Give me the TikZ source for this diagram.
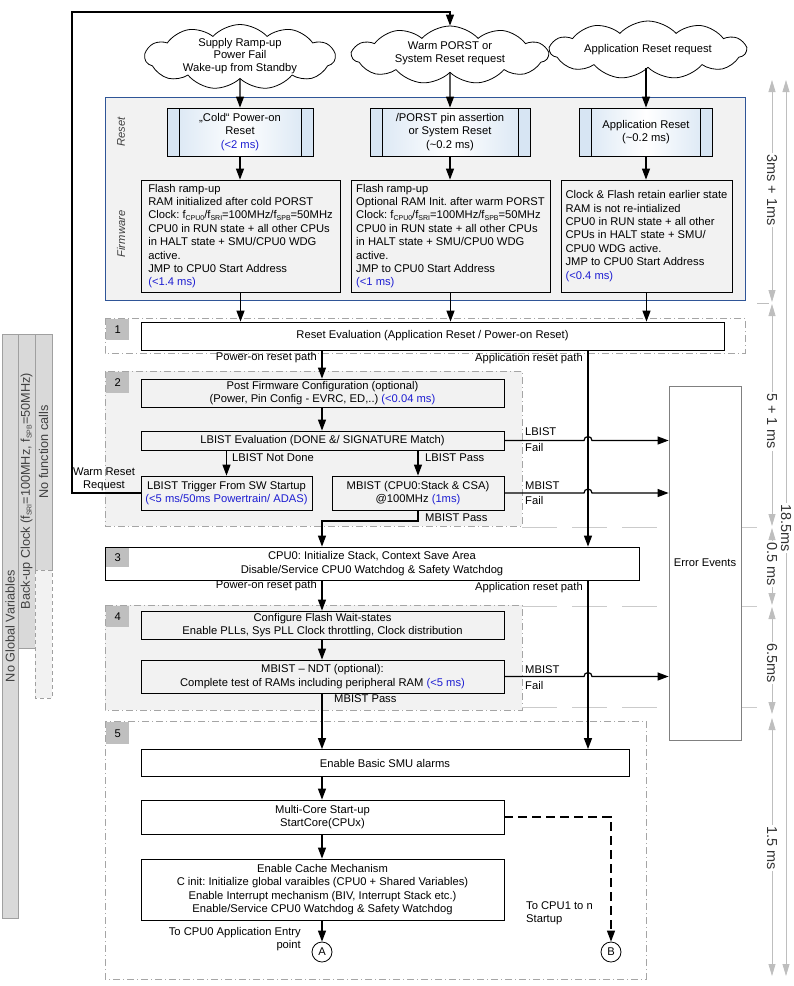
\documentclass[tikz,border=0pt]{standalone}
\usepackage{fontspec}
\setmainfont{Liberation Sans}
\usetikzlibrary{arrows.meta,shapes.symbols,calc}
\definecolor{bluebd}{RGB}{47,85,151}
\definecolor{bluetx}{RGB}{30,30,210}
\definecolor{secfill}{RGB}{242,242,242}
\definecolor{numfill}{RGB}{191,191,191}
\definecolor{tgray}{RGB}{190,190,190}
\definecolor{secbd}{RGB}{165,165,165}
\definecolor{rbl}{RGB}{215,229,243}
\definecolor{barfill}{RGB}{217,217,217}
\definecolor{barbd}{RGB}{160,160,160}
\definecolor{errbd}{RGB}{128,128,128}
\newcommand\bluet[1]{\textcolor{bluetx}{#1}}
\newcommand\mysub[1]{\raisebox{-1.8pt}{\fontsize{7}{7}\selectfont #1}}
\newcommand\diagfont{\fontsize{11.2}{13.4}\selectfont}
\newcommand\cloudfont{\fontsize{11.2}{12.8}\selectfont}
\newcommand\timefont{\fontsize{14.5}{16}\selectfont}
\newcommand\barfont{\fontsize{12.7}{14}\selectfont}
\begin{document}
\frenchspacing
\begin{tikzpicture}[x=1pt,y=-1pt,
  box/.style={draw=black, line width=0.8pt, inner sep=0pt, align=center, font=\diagfont},
  fwbox/.style={box, fill=secfill, align=left},
  sec/.style={draw=secbd, line width=0.7pt, dash pattern=on 7pt off 3pt on 1pt off 3pt},
  num/.style={fill=numfill, inner sep=0pt, minimum width=23pt, minimum height=21pt, font=\diagfont, anchor=north west},
  arr/.style={line width=1.2pt, -{Triangle[length=11pt,width=8pt]}},
  lbl/.style={font=\diagfont, inner sep=0pt},
  side/.style={font=\diagfont\itshape, text=black!75, rotate=90, inner sep=0pt},
  barlbl/.style={font=\barfont, text=black!75, rotate=90, inner sep=0pt},
  cloudsh/.style={cloud, cloud puffs=11, cloud puff arc=95, cloud ignores aspect, draw=black, fill=white, line width=0.8pt, inner sep=0pt},
  ctext/.style={font=\cloudfont, align=center, inner sep=0pt},
  rbox/.style={box, left color=rbl, right color=rbl, middle color=white,
    path picture={
      \fill[rbl] (path picture bounding box.north west) rectangle ([xshift=12pt]path picture bounding box.south west);
      \fill[rbl] (path picture bounding box.north east) rectangle ([xshift=-12pt]path picture bounding box.south east);
      \draw[line width=0.8pt] ([xshift=12pt]path picture bounding box.north west) -- ([xshift=12pt]path picture bounding box.south west);
      \draw[line width=0.8pt] ([xshift=-12pt]path picture bounding box.north east) -- ([xshift=-12pt]path picture bounding box.south east);
    }},
  tarr/.style={draw=tgray, line width=0.8pt, {Triangle[length=12pt,width=7pt]}-{Triangle[length=12pt,width=7pt]}},
  tlbl/.style={font=\timefont, text=black!80, fill=white, rotate=-90, inner sep=1.5pt},
  bound/.style={draw=tgray!80, line width=0.7pt, dash pattern=on 35pt off 15pt},
  circ/.style={circle, draw=black, line width=0.8pt, fill=white, minimum size=20pt, inner sep=0pt, font=\diagfont}
]
\useasboundingbox (0,0) rectangle (794,986);

% ---------- left bars
\draw[barbd, fill=barfill, line width=0.7pt] (2,334) rectangle (18,918);
\node[barlbl] (b1) at (10,626) {No Global Variables};
\draw[barbd, fill=barfill, line width=0.7pt] (18,334) rectangle (35,648);
\node[barlbl] (b2) at (26.5,491) {Back-up Clock (f\mysub{SRI}=100MHz, f\mysub{SPB}=50MHz)};
\draw[barbd, fill=barfill, line width=0.7pt] (35,334) rectangle (52,570);
\draw[barbd, fill=barfill!35, line width=0.7pt, dash pattern=on 4pt off 3pt] (35,570) rectangle (52,698);
\node[barlbl] (b3) at (43.5,452) {No function calls};

% ---------- backgrounds
\draw[bluebd, fill=secfill, line width=0.8pt] (105,97) rectangle (745,300);
\node[side] (lr) at (121,132) {Reset};
\node[side] (lf) at (121,234) {Firmware};
\draw[sec, fill=white] (105,318) rectangle (745,353);
\draw[sec, fill=secfill] (105,371) rectangle (522,526);
\draw[sec, fill=secfill] (105,605) rectangle (522,710);
\draw[sec, fill=white] (105,721) rectangle (646,979);

% ---------- boundary lines
\draw[tgray, line width=0.7pt] (757,303) -- (769,303);
\draw[bound] (522,527) -- (770,527);
\draw[bound] (522,606) -- (770,606);
\draw[bound] (522,707) -- (770,707);

% ---------- clouds
\node[cloudsh, minimum width=190pt, minimum height=65pt,
  label={[ctext, yshift=1pt]center:{Supply Ramp-up\\Power Fail\\Wake-up from Standby}}] (cl1) at (240,57) {};
\node[cloudsh, minimum width=196pt, minimum height=58pt,
  label={[ctext, yshift=2pt]center:{Warm PORST or\\System Reset request}}] (cl2) at (450,55) {};
\node[cloudsh, minimum width=196pt, minimum height=58pt,
  label={[ctext]center:{Application Reset request}}] (cl3) at (648,50) {};

% ---------- reset boxes
\node[rbox, minimum width=146pt, minimum height=48pt] (rb1) at (240,132) {„Cold“ Power-on\\Reset\\\bluet{(<2 ms)}};
\node[rbox, minimum width=160pt, minimum height=48pt] (rb2) at (450,132) {/PORST pin assertion\\or System Reset\\(\textasciitilde0.2 ms)};
\node[rbox, minimum width=133pt, minimum height=48pt] (rb3) at (646,132) {Application Reset\\(\textasciitilde0.2 ms)};

% ---------- firmware boxes
\node[fwbox, minimum width=199pt, minimum height=112pt] (fw1) at (240.5,236) {Flash ramp-up\\RAM initialized after cold PORST\\Clock: f\mysub{CPU0}/f\mysub{SRI}=100MHz/f\mysub{SPB}=50MHz\\CPU0 in RUN state + all other CPUs\\in HALT state + SMU/CPU0 WDG\\active.\\JMP to CPU0 Start Address\\\bluet{(<1.4 ms)}};
\node[fwbox, minimum width=199pt, minimum height=112pt] (fw2) at (450.5,236) {Flash ramp-up\\Optional RAM Init. after warm PORST\\Clock: f\mysub{CPU0}/f\mysub{SRI}=100MHz/f\mysub{SPB}=50MHz\\CPU0 in RUN state + all other CPUs\\in HALT state + SMU/CPU0 WDG\\active.\\JMP to CPU0 Start Address\\\bluet{(<1 ms)}};
\node[fwbox, minimum width=171pt, minimum height=112pt] (fw3) at (646.5,236) {Clock \& Flash retain earlier state\\RAM is not re-intialized\\CPU0 in RUN state + all other\\CPUs in HALT state + SMU/\\CPU0 WDG active.\\JMP to CPU0 Start Address\\\bluet{(<0.4 ms)}};

% ---------- section 1
\node[box, fill=white, minimum width=583pt, minimum height=28pt] (re) at (432.5,336) {Reset Evaluation (Application Reset / Power-on Reset)};
\node[num] (n1) at (106,319) {1};
\coordinate (pwx) at (322,0);
\coordinate (apx) at (588,0);

% ---------- section 2
\node[num] (n2) at (106,372) {2};
\node[box, fill=secfill, minimum width=363pt, minimum height=28pt] (pf) at (322.5,393) {Post Firmware Configuration (optional)\\(Power, Pin Config - EVRC, ED,..) \bluet{(<0.04 ms)}};
\node[box, fill=secfill, minimum width=363pt, minimum height=19pt] (lbe) at (322.5,440.5) {LBIST Evaluation (DONE \&/ SIGNATURE Match)};
\node[box, fill=secfill, minimum width=171pt, minimum height=34pt] (lbt) at (226.5,493) {LBIST Trigger From SW Startup\\\bluet{(<5 ms/50ms Powertrain/ ADAS)}};
\node[box, fill=secfill, minimum width=172pt, minimum height=34pt] (mb) at (418,493) {MBIST (CPU0:Stack \& CSA)\\@100MHz \bluet{(1ms)}};

% ---------- section 3
\node[box, fill=white, minimum width=534pt, minimum height=33pt] (cpu) at (372,563.5) {CPU0: Initialize Stack, Context Save Area\\Disable/Service CPU0 Watchdog \& Safety Watchdog};
\node[num, minimum height=19pt] (n3) at (106,548) {3};

% ---------- section 4
\node[num] (n4) at (106,606) {4};
\node[box, fill=secfill, minimum width=363pt, minimum height=28pt] (cf) at (322.5,625) {Configure Flash Wait-states\\Enable PLLs, Sys PLL Clock throttling, Clock distribution};
\node[box, fill=secfill, minimum width=363pt, minimum height=33pt] (nd) at (322.5,676.5) {MBIST – NDT (optional):\\Complete test of RAMs including peripheral RAM \bluet{(<5 ms)}};

% ---------- section 5
\node[num, minimum height=22pt] (n5) at (106,722) {5};
\node[box, fill=white, minimum width=488pt, minimum height=27pt] (smu) at (385,763) {Enable Basic SMU alarms};
\node[box, fill=white, minimum width=363pt, minimum height=34pt] (mc) at (322.5,817) {Multi-Core Start-up\\StartCore(CPUx)};
\node[box, fill=white, minimum width=363pt, minimum height=61pt] (ec) at (322.5,889.5) {Enable Cache Mechanism\\C init: Initialize global varaibles (CPU0 + Shared Variables)\\Enable Interrupt mechanism (BIV, Interrupt Stack etc.)\\Enable/Service CPU0 Watchdog \& Safety Watchdog};
\node[circ] (ca) at (322,952) {A};
\node[circ] (cb) at (611,952) {B};

% ---------- error events
\node[draw=errbd, fill=white, line width=0.8pt, minimum width=72pt, minimum height=354pt, inner sep=0pt, font=\diagfont] (err) at (705,563) {Error Events};

% ---------- arrows top
\draw[arr] (cl1.south) -- (rb1.north);
\draw[arr] (cl2.south) -- (rb2.north);
\draw[arr] (cl3.south -| rb3.north) -- (rb3.north);
\draw[arr] (rb1.south) -- (rb1.south |- fw1.north);
\draw[arr] (rb2.south) -- (rb2.south |- fw2.north);
\draw[arr] (rb3.south) -- (rb3.south |- fw3.north);
\draw[arr] (fw1.south) -- (fw1.south |- re.north);
\draw[arr] (fw2.south) -- (fw2.south |- re.north);
\draw[arr] (fw3.south) -- (fw3.south |- re.north);

% ---------- feedback
\coordinate (fbc) at (72,12);
\draw[arr] (lbt.west) -| (fbc) -| (cl2.north);

% ---------- power-on path
\draw[arr] (re.south -| pwx) -- (pf.north -| pwx);
\draw[arr] (pf.south -| pwx) -- (lbe.north -| pwx);
\draw[arr] (lbe.south -| lbt.north) -- (lbt.north);
\draw[arr] (lbe.south -| mb.north) -- (mb.north);
\coordinate (mp) at (322,521);
\draw[arr] (mb.south) |- (mp) -- (mp |- cpu.north);
\draw[arr] (cpu.south -| pwx) -- (cf.north -| pwx);
\draw[arr] (cf.south -| pwx) -- (nd.north -| pwx);
\draw[arr] (nd.south -| pwx) -- (smu.north -| pwx);
\draw[arr] (smu.south -| pwx) -- (mc.north -| pwx);
\draw[arr] (mc.south -| pwx) -- (ec.north -| pwx);
\draw[arr] (ec.south -| pwx) -- (ca.north);
\draw[arr, dash pattern=on 9pt off 5pt] (mc.east) -| (cb.north);

% ---------- application path
\draw[arr] (re.south -| apx) -- (cpu.north -| apx);
\draw[arr] (cpu.south -| apx) -- (smu.north -| apx);

% ---------- fail lines with jumps
\draw[arr] (lbe.east) -- ($(lbe.east -| apx)+(-4,0)$) arc[start angle=180,end angle=0,radius=4pt] -- (lbe.east -| err.west);
\draw[arr] (mb.east) -- ($(mb.east -| apx)+(-4,0)$) arc[start angle=180,end angle=0,radius=4pt] -- (mb.east -| err.west);
\draw[arr] (nd.east) -- ($(nd.east -| apx)+(-4,0)$) arc[start angle=180,end angle=0,radius=4pt] -- (nd.east -| err.west);

% ---------- labels
\node[lbl, anchor=east] (l1) at (317,358) {Power-on reset path};
\node[lbl, anchor=east] (l2) at (583,359) {Application reset path};
\node[lbl, anchor=west] (l3) at (232,458) {LBIST Not Done};
\node[lbl, anchor=west] (l4) at (425,458) {LBIST Pass};
\node[lbl, anchor=west] (l5) at (425,518) {MBIST Pass};
\node[lbl, anchor=west] (l6) at (525,432) {LBIST};
\node[lbl, anchor=west] (l7) at (525,447) {Fail};
\node[lbl, anchor=west] (l8) at (525,486) {MBIST};
\node[lbl, anchor=west] (l9) at (525,500) {Fail};
\node[lbl, anchor=east] (l10) at (317,586) {Power-on reset path};
\node[lbl, anchor=east] (l11) at (583,588) {Application reset path};
\node[lbl, anchor=west] (l12) at (525,670) {MBIST};
\node[lbl, anchor=west] (l13) at (525,685) {Fail};
\node[lbl, anchor=west] (l14) at (334,699) {MBIST Pass};
\node[lbl, align=left, anchor=west] (l15) at (526,913) {To CPU1 to n\\Startup};
\node[lbl, align=right, anchor=east] (l16) at (301,939) {To CPU0 Application Entry\\point};
\node[lbl, align=center] (l17) at (104,479.5) {Warm Reset\\Request};

% ---------- timing
\coordinate (ta0) at (772,80);
\coordinate (ta1) at (772,302);
\coordinate (ta2) at (772,304);
\coordinate (ta3) at (772,526);
\coordinate (ta4) at (772,528);
\coordinate (ta5) at (772,605);
\coordinate (ta6) at (772,607);
\coordinate (ta7) at (772,714);
\coordinate (ta8) at (772,718);
\coordinate (ta9) at (772,976);
\coordinate (tb0) at (786,80);
\coordinate (tb1) at (786,976);
\draw[tarr] (ta0) -- (ta1);
\draw[tarr] (ta2) -- (ta3);
\draw[tarr] (ta4) -- (ta5);
\draw[tarr] (ta6) -- (ta7);
\draw[tarr] (ta8) -- (ta9);
\draw[tarr] (tb0) -- (tb1);
\node[tlbl] (t1) at (772,190) {3ms + 1ms};
\node[tlbl] (t2) at (772,421) {5 + 1 ms};
\node[tlbl] (t3) at (772,564) {0.5 ms};
\node[tlbl] (t4) at (772,663) {6.5ms};
\node[tlbl] (t5) at (772,848) {1.5 ms};
\node[tlbl] (t6) at (786,528) {18.5ms};
\end{tikzpicture}
\end{document}
